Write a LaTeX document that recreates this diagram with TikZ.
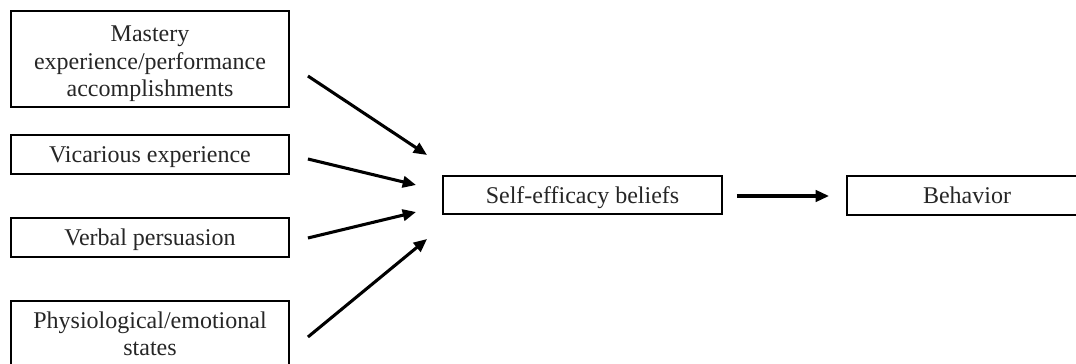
\documentclass[tikz,border=0pt]{standalone}
\usepackage{fontspec}
\setmainfont{Liberation Serif}
\usetikzlibrary{arrows.meta,calc}
\tikzset{
  box/.style={draw=black, line width=1.4pt, rectangle, inner sep=0pt, align=center,
    font=\fontsize{18}{20.6}\selectfont, text=black!85},
  oneline/.style={text depth=0pt},
  multiline/.style={text width=200pt},
  arr/.style={line width=2.3pt, -{Triangle[length=10pt,width=8.5pt]}}
}
\begin{document}
\begin{tikzpicture}[x=0.75pt,y=-0.75pt]
\clip (0,0) rectangle (1076,364);
\fill[white] (0,0) rectangle (1076,364);
\node[box, multiline, text depth=37.6pt, minimum width=208.5pt, minimum height=72pt] (m) at (150,59)
  {Mastery\\experience/performance\\accomplishments};
\node[box, oneline, minimum width=208.5pt, minimum height=29.25pt] (v) at (150,154.5) {Vicarious experience};
\node[box, oneline, minimum width=208.5pt, minimum height=29.25pt] (vp) at (150,237.5) {Verbal persuasion};
\node[box, multiline, minimum width=208.5pt, minimum height=49.5pt] (ph) at (150,334)
  {Physiological/emotional\\states};
\node[box, oneline, minimum width=209.25pt, minimum height=28.5pt] (se) at (582.5,195) {Self-efficacy beliefs};
\node[box, oneline, minimum width=180pt, minimum height=29.25pt] (b) at (967,195.5) {Behavior};
\draw[arr] ($(m.east)+(18,17)$) -- ($(se.west)+(-15,-40)$);
\draw[arr] ($(v.east)+(18,4.5)$) -- ($(se.west)+(-26,-10)$);
\draw[arr] ($(vp.east)+(18,0.5)$) -- ($(se.west)+(-26,17)$);
\draw[arr] ($(ph.east)+(18,3)$) -- ($(se.west)+(-15,44)$);
\draw[arr] ($(se.east)+(14,1)$) -- ($(b.west)+(-17,0.5)$);
\end{tikzpicture}
\end{document}
